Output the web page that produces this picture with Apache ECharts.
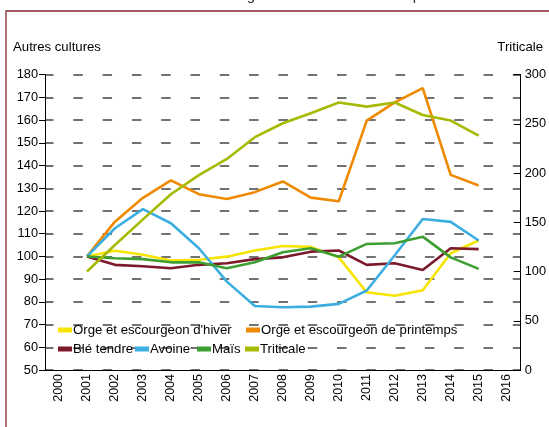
<!DOCTYPE html>
<html>
<head>
<meta charset="utf-8">
<script src="https://cdn.jsdelivr.net/npm/echarts@6/dist/echarts.min.js"></script>
<style>html,body{margin:0;padding:0;background:#fff;}#c{width:549px;height:427px;}</style>
</head>
<body>
<div id="c"></div>
<script>
const years = ['2000','2001','2002','2003','2004','2005','2006','2007','2008','2009','2010','2011','2012','2013','2014','2015','2016'];
const leftTicks = [50,60,70,80,90,100,110,120,130,140,150,160,170,180];
const rightTicks = [0,50,100,150,200,250,300];
const orgeHiver     = [null,100,102.5,100.7,98.2,98.5,99.9,102.6,104.6,104.2,99.6,84.2,82.7,85.1,101.4,107,null];
const orgePrintemps = [null,100,115.3,125.8,133.5,127.4,125.3,128.3,133,125.9,124.3,159.8,167.8,174.1,135.9,131.2,null];
const bleTendre     = [null,100,96.3,95.7,94.8,96.3,97,98.8,99.6,102.1,102.6,96.3,97,94,103.6,103.2,null];
const avoine        = [null,100,112.4,120.8,114.6,103.6,88.9,78.2,77.6,77.9,79.1,85,100.5,116.5,115.2,107,null];
const mais          = [null,100,99.2,98.8,97.4,97.4,94.8,97.4,101.8,103.6,99.9,105.5,105.8,108.7,99.6,94.5,null];
const triticale     = [null,100,127,153,178.5,198,214.4,236.5,250.7,260.9,271.7,267.6,271.7,259,253.4,238,null];

const names = ["Orge et escourgeon d'hiver","Orge et escourgeon de printemps","Blé tendre","Avoine","Maïs","Triticale"];
const colors = ['#f7e400','#ef8a00','#7c1a2c','#3caee0','#3d9e32','#a5ba00'];
const datas = [orgeHiver, orgePrintemps, bleTendre, avoine, mais, triticale];
const axisIdx = [0,0,0,0,0,1];

const chart = echarts.init(document.getElementById('c'));
const font = 'Liberation Sans, Arial, sans-serif';
const legendPos = [[58,323.5],[246,323.5],[58,342.5],[135,342.5],[197,342.5],[245,342.5]];
const legends = names.map((n,i)=>({
  data:[n], left: legendPos[i][0], top: legendPos[i][1], orient:'horizontal',
  icon:'rect', itemWidth:14, itemHeight:5, itemGap:0, padding:0,
  selectedMode:false,
  textStyle:{fontFamily:font, fontSize:13.2, color:'#000', padding:[0,0,0,-4]}
}));
chart.setOption({
  animation:false,
  backgroundColor:'#fff',
  textStyle:{fontFamily:font},
  graphic:[
    {type:'rect', shape:{x:6,y:11,width:700,height:600}, style:{fill:'none', stroke:'#8a2535', lineWidth:1.3}, silent:true},
    {type:'text', x:278, y:3, style:{text:'Évolution des surfaces régionales des céréales depuis 2001', font:'15px Liberation Sans, Arial, sans-serif', fill:'#333', textAlign:'center', textVerticalAlign:'bottom'}},
    {type:'text', x:13, y:47, style:{text:'Autres cultures', font:'13.2px Liberation Sans, Arial, sans-serif', fill:'#000', textAlign:'left', textVerticalAlign:'middle'}},
    {type:'text', x:543, y:47, style:{text:'Triticale', font:'13.2px Liberation Sans, Arial, sans-serif', fill:'#000', textAlign:'right', textVerticalAlign:'middle'}}
  ],
  legend: legends,
  grid:{left:45, right:26, top:74.7, bottom:57, containLabel:false},
  xAxis:{
    type:'category', data:years, boundaryGap:true,
    axisLine:{lineStyle:{color:'#000', width:1}},
    axisTick:{length:5, lineStyle:{color:'#000'}},
    axisLabel:{rotate:90, fontSize:12.5, color:'#000', margin:4, fontFamily:font},
    splitLine:{show:false}
  },
  yAxis:[
    {type:'value', min:50, max:180, interval:10, position:'left',
     axisLine:{show:true, lineStyle:{color:'#000'}},
     axisTick:{show:true, length:6, lineStyle:{color:'#000'}},
     axisLabel:{fontSize:12.8, color:'#000', margin:7, fontFamily:font},
     splitLine:{show:true, lineStyle:{color:'#444', width:1.6, type:[9.5,19.8], dashOffset:1}}
    },
    {type:'value', min:0, max:300, interval:50, position:'right',
     axisLine:{show:true, lineStyle:{color:'#000'}},
     axisTick:{show:true, inside:true, length:7, lineStyle:{color:'#000'}},
     axisLabel:{fontSize:12.8, color:'#000', margin:4, fontFamily:font},
     splitLine:{show:false}
    }
  ],
  series: names.map((n,i)=>({
    name:n, type:'line', data:datas[i], yAxisIndex:axisIdx[i],
    showSymbol:false, symbol:'none', connectNulls:false,
    lineStyle:{color:colors[i], width:2.6}, itemStyle:{color:colors[i]}
  }))
});
</script>
</body>
</html>
